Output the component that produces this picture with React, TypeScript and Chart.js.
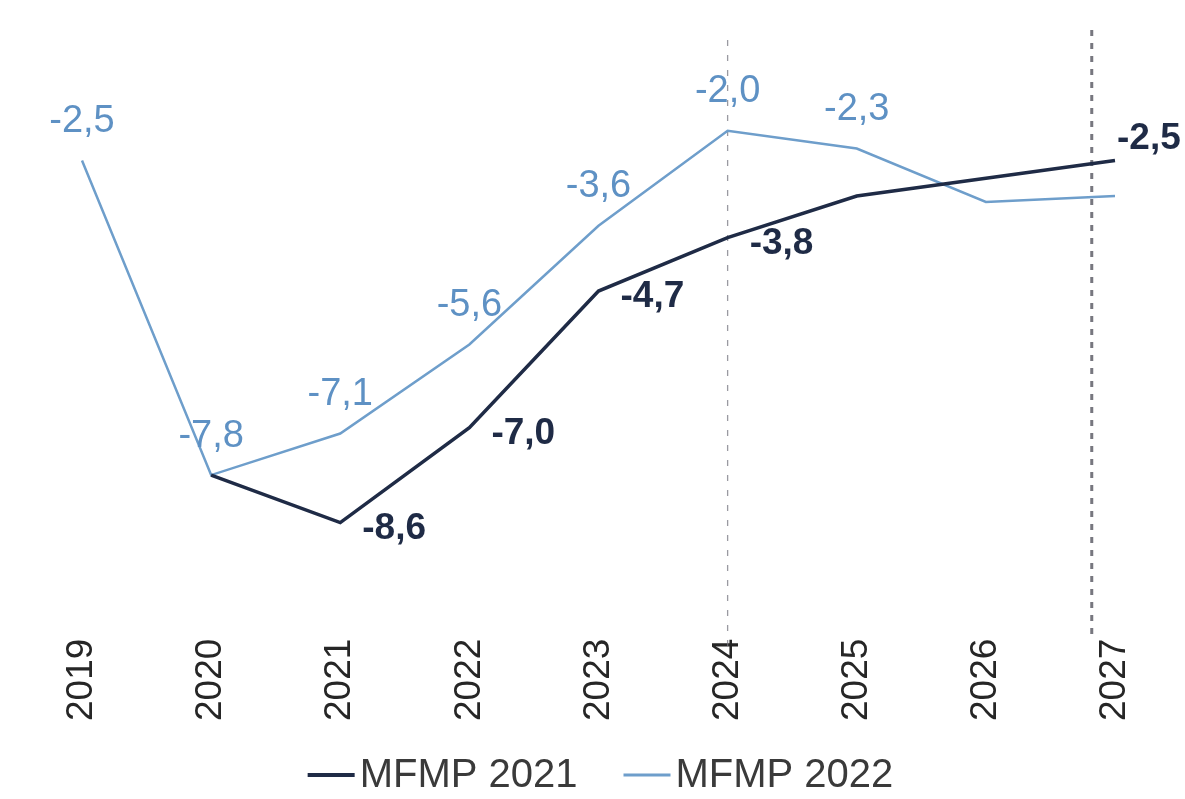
import React, { useEffect, useRef } from "react";
import { Chart, registerables } from "chart.js";

Chart.register(...registerables);

const years = ["2019", "2020", "2021", "2022", "2023", "2024", "2025", "2026", "2027"];
const mfmp2021: (number | null)[] = [null, -7.8, -8.6, -7.0, -4.7, -3.8, -3.1, -2.8, -2.5];
const mfmp2022: (number | null)[] = [-2.5, -7.8, -7.1, -5.6, -3.6, -2.0, -2.3, -3.2, -3.1];
const shownLabels2021 = [false, false, true, true, true, true, false, false, true];
const shownLabels2022 = [true, true, true, true, true, true, true, false, false];
const seriesNames = ["MFMP 2021", "MFMP 2022"];
// positions of the dashed vertical markers, in category-index units
const markerIndexes = [5, 7.82];

const DARK = "#1f2b46";
const LIGHT = "#6e9ecb";
const LIGHT_TEXT = "#5e91c4";
const FONT = "'Liberation Sans', Arial, sans-serif";

const fmt = (v: number) => v.toFixed(1).replace(".", ",");

const overlayPlugin = {
  id: "overlay",
  beforeDatasetsDraw(chart: any) {
    const ctx = chart.ctx;
    const x = chart.scales.x;
    const area = chart.chartArea;
    ctx.save();
    markerIndexes.forEach((idx, i) => {
      const lo = Math.floor(idx);
      const frac = idx - lo;
      const p0 = x.getPixelForValue(lo);
      const p1 = lo + 1 < years.length ? x.getPixelForValue(lo + 1) : p0;
      const px = p0 + (p1 - p0) * frac;
      ctx.beginPath();
      if (i === 0) {
        ctx.strokeStyle = "rgba(120,120,130,0.75)";
        ctx.lineWidth = 1.3;
        ctx.setLineDash([6, 9]);
        ctx.moveTo(px, area.top + 28);
        ctx.lineTo(px, area.bottom + 42);
      } else {
        ctx.strokeStyle = "rgba(95,95,105,0.85)";
        ctx.lineWidth = 3;
        ctx.setLineDash([6, 7]);
        ctx.moveTo(px, area.top + 18);
        ctx.lineTo(px, area.bottom + 32);
      }
      ctx.stroke();
    });
    ctx.restore();
  },
  afterDatasetsDraw(chart: any) {
    const ctx = chart.ctx;
    ctx.save();
    // light series labels (above points)
    const m1 = chart.getDatasetMeta(1);
    ctx.font = `38px ${FONT}`;
    ctx.fillStyle = LIGHT_TEXT;
    ctx.textAlign = "center";
    ctx.textBaseline = "middle";
    mfmp2022.forEach((v, i) => {
      if (v == null || !shownLabels2022[i]) return;
      const el = m1.data[i];
      ctx.fillText(fmt(v), el.x, el.y - 39);
    });
    // dark series labels (right of points, bold)
    const m0 = chart.getDatasetMeta(0);
    ctx.font = `bold 37px ${FONT}`;
    ctx.fillStyle = DARK;
    ctx.textAlign = "left";
    mfmp2021.forEach((v, i) => {
      if (v == null || !shownLabels2021[i]) return;
      const el = m0.data[i];
      if (i === mfmp2021.length - 1) {
        ctx.fillText(fmt(v), el.x + 2, el.y - 22);
      } else {
        ctx.fillText(fmt(v), el.x + 22, el.y + 6);
      }
    });
    ctx.restore();
  },
  afterDraw(chart: any) {
    const ctx = chart.ctx;
    const area = chart.chartArea;
    ctx.save();
    ctx.font = `40px ${FONT}`;
    ctx.textBaseline = "middle";
    ctx.textAlign = "left";
    const lineW = 47;
    const gapText = 5;
    const gapItems = 46;
    const colors = [DARK, LIGHT];
    const widths = seriesNames.map((n) => ctx.measureText(n).width);
    const total = widths.reduce((a, w) => a + lineW + gapText + w, 0) + gapItems * (seriesNames.length - 1);
    let cx = (area.left + area.right) / 2 - total / 2 + 2;
    const cy = chart.height - 24;
    seriesNames.forEach((n, i) => {
      ctx.strokeStyle = colors[i];
      ctx.lineWidth = i === 0 ? 4 : 3;
      ctx.beginPath();
      ctx.moveTo(cx, cy);
      ctx.lineTo(cx + lineW, cy);
      ctx.stroke();
      ctx.fillStyle = "#3a3a3a";
      ctx.fillText(n, cx + lineW + gapText, cy + 1);
      cx += lineW + gapText + widths[i] + gapItems;
    });
    ctx.restore();
  },
};

export default function App() {
  const ref = useRef<HTMLCanvasElement | null>(null);
  useEffect(() => {
    document.body.style.margin = "0";
    const canvas = ref.current;
    if (!canvas) return;
    const chart = new Chart(canvas, {
      type: "line",
      data: {
        labels: years,
        datasets: [
          {
            label: seriesNames[0],
            data: mfmp2021,
            borderColor: DARK,
            backgroundColor: DARK,
            borderWidth: 3.5,
            pointRadius: 0,
            tension: 0,
          },
          {
            label: seriesNames[1],
            data: mfmp2022,
            borderColor: LIGHT,
            backgroundColor: LIGHT,
            borderWidth: 2.5,
            pointRadius: 0,
            tension: 0,
          },
        ],
      },
      options: {
        responsive: false,
        animation: false,
        layout: { padding: { left: 82, right: 70, top: 12, bottom: 45 } },
        plugins: {
          legend: { display: false },
          tooltip: { enabled: false },
        },
        scales: {
          y: { display: false, min: -10, max: 0 },
          x: {
            offset: false,
            grid: { display: false, drawTicks: false },
            border: { display: false },
            afterFit: (scale: any) => {
              scale.paddingLeft = 0;
              scale.paddingRight = 0;
            },
            ticks: {
              minRotation: 90,
              maxRotation: 90,
              padding: 33,
              color: "#262626",
              font: { family: FONT, size: 37 },
            },
          },
        },
      },
      plugins: [overlayPlugin],
    });
    return () => chart.destroy();
  }, []);
  return (
    <div style={{ width: 1185, height: 799, background: "#fff" }}>
      <canvas ref={ref} width={1185} height={799} />
    </div>
  );
}
